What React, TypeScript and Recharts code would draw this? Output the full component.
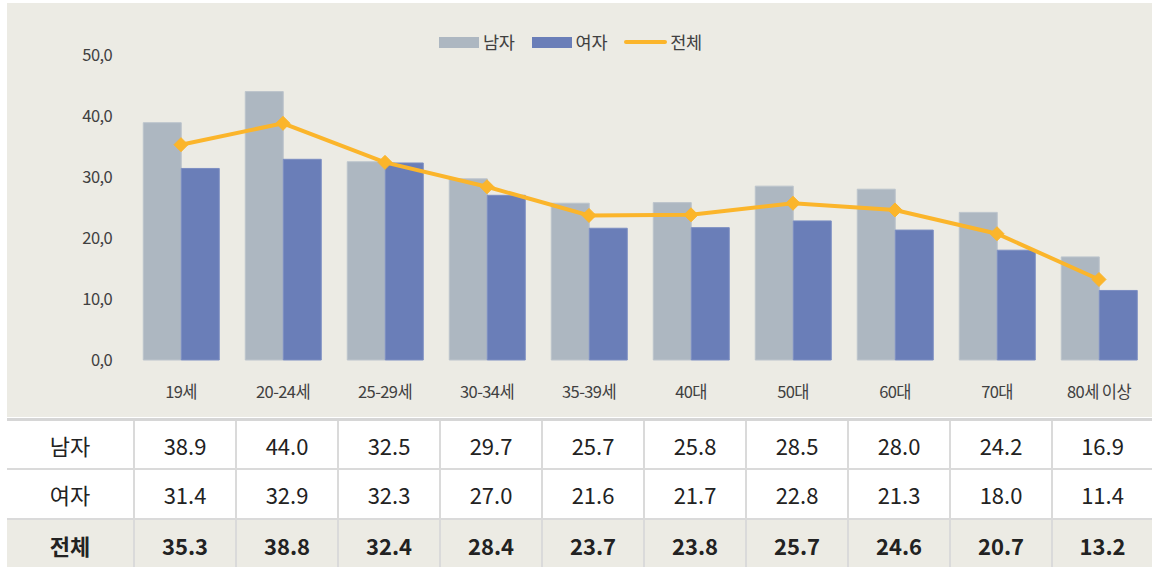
import React from "react";
import { ComposedChart, Bar, Line, XAxis, YAxis } from "recharts";

const categories = ["19세", "20-24세", "25-29세", "30-34세", "35-39세", "40대", "50대", "60대", "70대", "80세 이상"];
const maleValues = [38.9, 44.0, 32.5, 29.7, 25.7, 25.8, 28.5, 28.0, 24.2, 16.9];
const femaleValues = [31.4, 32.9, 32.3, 27.0, 21.6, 21.7, 22.8, 21.3, 18.0, 11.4];
const totalValues = [35.3, 38.8, 32.4, 28.4, 23.7, 23.8, 25.7, 24.6, 20.7, 13.2];
const yTicks = [0, 10, 20, 30, 40, 50];
const seriesNames = { male: "남자", female: "여자", total: "전체" };

const data = categories.map((c, i) => ({
  name: c,
  male: maleValues[i],
  female: femaleValues[i],
  total: totalValues[i],
}));

const FONT = "'Noto Sans CJK KR', 'Noto Sans', sans-serif";
const BG = "#ECEBE4";
const GREY = "#ADB7C1";
const BLUE = "#6A7EB8";
const ORANGE = "#FBB52B";

const Diamond = (props: any) => {
  const { cx, cy } = props;
  if (cx == null || cy == null) return null;
  const r = 7;
  return (
    <polygon
      points={`${cx},${cy - r} ${cx + r},${cy} ${cx},${cy + r} ${cx - r},${cy}`}
      fill={ORANGE}
      stroke={ORANGE}
    />
  );
};

const LegendBox = () => (
  <div
    style={{
      position: "absolute",
      left: 432,
      top: 27,
      display: "flex",
      alignItems: "center",
      fontFamily: FONT,
      fontSize: 17.5,
      lineHeight: "24px",
      color: "#404040",
      letterSpacing: -0.3,
    }}
  >
    <span style={{ display: "inline-block", width: 40, height: 11, background: GREY }} />
    <span style={{ marginLeft: 4, marginRight: 17 }}>{seriesNames.male}</span>
    <span style={{ display: "inline-block", width: 40, height: 11, background: BLUE }} />
    <span style={{ marginLeft: 4, marginRight: 17 }}>{seriesNames.female}</span>
    <span style={{ display: "inline-block", width: 43, height: 4, background: ORANGE, borderRadius: 2 }} />
    <span style={{ marginLeft: 3 }}>{seriesNames.total}</span>
  </div>
);

const cellBorder = "2px solid #DADADA";

export default function App() {
  const colW = 102;
  const firstW = 126;
  const rows = [
    { label: seriesNames.male, values: maleValues, bold: false, bg: "#FFFFFF", h: 47 },
    { label: seriesNames.female, values: femaleValues, bold: false, bg: "#FFFFFF", h: 50 },
    { label: seriesNames.total, values: totalValues, bold: true, bg: BG, h: 52 },
  ];
  const tickStyle = { fill: "#404040", fontSize: 16.5, fontFamily: FONT, letterSpacing: -0.6 };
  return (
    <div style={{ position: "absolute", left: 0, top: 0, width: 1152, height: 567, background: "#FFFFFF", fontFamily: FONT, overflow: "hidden" }}>
      <div style={{ position: "absolute", left: 7, top: 3, width: 1145, height: 414, background: BG }}>
        <ComposedChart
          width={1145}
          height={414}
          data={data}
          margin={{ top: 52, right: 2, bottom: 0, left: 0 }}
          barCategoryGap="13%"
          barGap={0}
        >
          <XAxis
            dataKey="name"
            height={57}
            axisLine={false}
            tickLine={false}
            tickSize={0}
            tickMargin={26}
            interval={0}
            tick={tickStyle}
          />
          <YAxis
            domain={[0, 50]}
            ticks={yTicks}
            width={123}
            axisLine={false}
            tickLine={false}
            tickSize={0}
            tickMargin={18}
            tickFormatter={(v: number) => v.toFixed(1).replace(".", ",")}
            tick={tickStyle}
          />
          <Bar dataKey="male" name={seriesNames.male} fill={GREY} stroke="#BCC4CC" strokeWidth={1} isAnimationActive={false} />
          <Bar dataKey="female" name={seriesNames.female} fill={BLUE} stroke="#7C8EC2" strokeWidth={1} isAnimationActive={false} />
          <Line
            dataKey="total"
            name={seriesNames.total}
            stroke={ORANGE}
            strokeWidth={4}
            dot={<Diamond />}
            activeDot={false}
            isAnimationActive={false}
          />
        </ComposedChart>
        <LegendBox />
      </div>
      <div style={{ position: "absolute", left: 7, top: 418, width: 1145, borderTop: "3px solid #D6D6D6" }}>
        {rows.map((r, ri) => (
          <div
            key={r.label}
            style={{
              display: "flex",
              height: r.h,
              background: r.bg,
              borderTop: ri === 0 ? "none" : cellBorder,
              boxSizing: "border-box",
            }}
          >
            <div
              style={{
                width: firstW,
                display: "flex",
                alignItems: "center",
                justifyContent: "center",
                fontSize: 22,
                fontWeight: r.bold ? 700 : 400,
                color: "#222222",
              }}
            >
              {r.label}
            </div>
            {r.values.map((v, i) => (
              <div
                key={i}
                style={{
                  width: i === r.values.length - 1 ? colW - 1 : colW,
                  borderLeft: cellBorder,
                  boxSizing: "border-box",
                  display: "flex",
                  alignItems: "center",
                  justifyContent: "center",
                  fontSize: 22,
                  fontWeight: r.bold ? 700 : 400,
                  color: "#222222",
                }}
              >
                {v.toFixed(1)}
              </div>
            ))}
          </div>
        ))}
      </div>
    </div>
  );
}
